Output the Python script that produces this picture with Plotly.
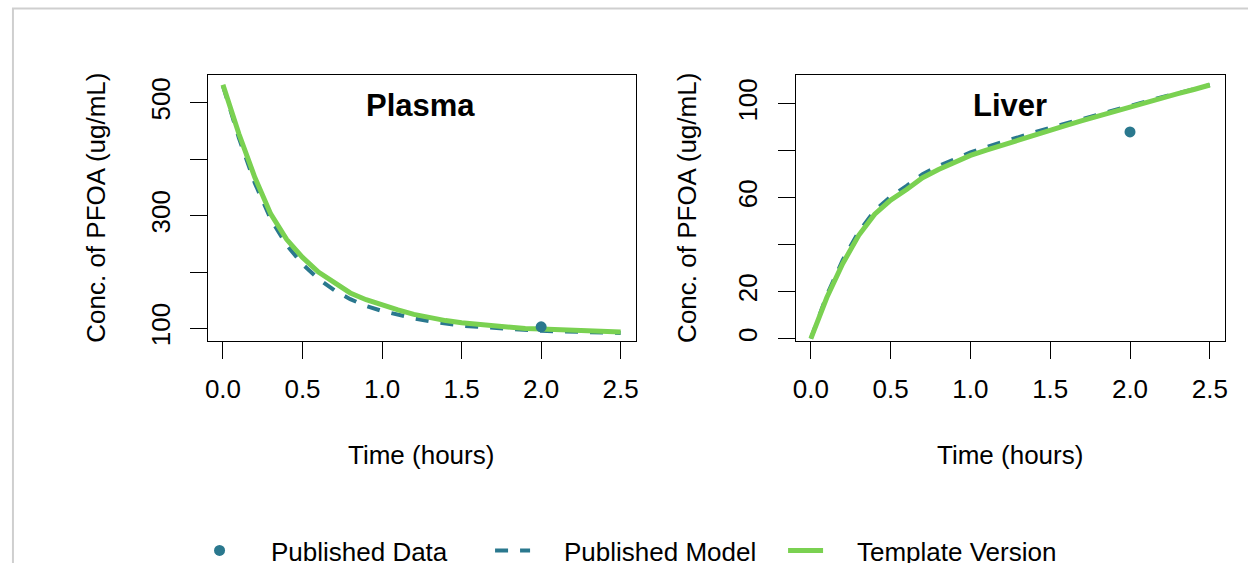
import plotly.graph_objects as go

# ---------------- data ----------------
time_h = [0.0, 0.1, 0.2, 0.3, 0.4, 0.5, 0.6, 0.7, 0.8, 0.9, 1.0, 1.1, 1.2,
          1.3, 1.4, 1.5, 1.6, 1.7, 1.8, 1.9, 2.0, 2.1, 2.2, 2.3, 2.4, 2.5]

plasma_template = [532, 445, 368, 303, 258, 226, 200, 181, 163, 151, 141, 133, 125,
                   119, 114, 110, 107, 104, 102, 100, 99, 98, 97, 96, 95, 94]
plasma_model = [530, 438, 358, 294, 248, 214, 188, 168, 152, 140, 131, 124, 118,
                113, 109, 105, 103, 101, 99, 97, 96, 95, 94, 93, 92.5, 92]

liver_template = [0, 17.5, 32, 44, 53, 59, 63.5, 68.5, 72, 75, 78, 80.3, 82.5,
                  84.6, 86.7, 88.8, 90.8, 92.8, 94.8, 96.8, 98.7, 100.6, 102.5, 104.3, 106.1, 108]
liver_model = [0, 18.5, 33.5, 45.5, 54.5, 60.5, 65, 70, 73.5, 76.5, 79.3, 81.6, 83.8,
               85.8, 87.8, 89.8, 91.7, 93.6, 95.5, 97.4, 99.2, 101, 102.8, 104.5, 106.2, 108]

data_time = [2.0]
plasma_data = [103]
liver_data = [88]

x_ticks = [0.0, 0.5, 1.0, 1.5, 2.0, 2.5]
x_ticktext = ["0.0", "0.5", "1.0", "1.5", "2.0", "2.5"]
plasma_yticks = [100, 200, 300, 400, 500]
plasma_yticktext = ["100", "", "300", "", "500"]
liver_yticks = [0, 20, 40, 60, 80, 100]
liver_yticktext = ["0", "20", "", "60", "", "100"]

# ---------------- style ----------------
W, H = 1248, 563        # target picture size (layout is laid out in these px)
HT = 574                # figure height actually used (fills the viewport)
TEAL = "#2A788E"
GREEN = "#7AD151"
FONT = "Liberation Sans, Arial, sans-serif"
FS = 26
GAP = "\u00a0" * 4

def px_x(p):
    return p / W

def px_y(p):
    return 1 - p / H

fig = go.Figure()

panels = [
    ("x", "y", plasma_model, plasma_template, plasma_data, True),
    ("x2", "y2", liver_model, liver_template, liver_data, False),
]
for xa, ya, model, templ, pts, show in panels:
    fig.add_trace(go.Scatter(
        x=time_h, y=model, mode="lines", name=GAP + "Published Model",
        line=dict(color=TEAL, width=4, dash="13px,12px"),
        xaxis=xa, yaxis=ya, showlegend=show, legendgroup="model", legendrank=2))
    fig.add_trace(go.Scatter(
        x=time_h, y=templ, mode="lines", name=GAP + "Template Version",
        line=dict(color=GREEN, width=5),
        xaxis=xa, yaxis=ya, showlegend=show, legendgroup="templ", legendrank=3))
    fig.add_trace(go.Scatter(
        x=data_time, y=pts, mode="markers", name=GAP + "Published Data",
        marker=dict(color=TEAL, size=11),
        xaxis=xa, yaxis=ya, showlegend=show, legendgroup="data", legendrank=1))

common_axis = dict(
    showline=True, mirror=True, linecolor="black", linewidth=1,
    ticks="outside", ticklen=17, tickwidth=1, tickcolor="black",
    showgrid=False, zeroline=False,
    tickfont=dict(family=FONT, size=FS, color="black"),
)

ydom = [px_y(337.7), px_y(74)]
fig.update_layout(
    width=W, height=HT,
    margin=dict(l=0, r=0, t=0, b=0),
    paper_bgcolor="white", plot_bgcolor="white",
    font=dict(family=FONT, size=FS, color="black"),
    xaxis=dict(domain=[px_x(206), px_x(635.7)], range=[-0.094, 2.594],
               tickvals=x_ticks, ticktext=x_ticktext, anchor="y",
               ticklabelstandoff=8, **common_axis),
    yaxis=dict(domain=ydom, range=[77.3, 549.6], tickvals=plasma_yticks,
               ticktext=plasma_yticktext, tickangle=-90, anchor="x",
               ticklabelstandoff=10, **common_axis),
    xaxis2=dict(domain=[px_x(796.7), px_x(1227.7)], range=[-0.094, 2.594],
                tickvals=x_ticks, ticktext=x_ticktext, anchor="y2",
                ticklabelstandoff=8, **common_axis),
    yaxis2=dict(domain=ydom, range=[-1.16, 112.35], tickvals=liver_yticks,
                ticktext=liver_yticktext, tickangle=-90, anchor="x2",
                ticklabelstandoff=10, **common_axis),
    legend=dict(orientation="h", x=px_x(195), xanchor="left", y=px_y(545), yanchor="middle",
                font=dict(family=FONT, size=FS, color="black"),
                itemwidth=35, entrywidth=243, entrywidthmode="pixels",
                bgcolor="rgba(0,0,0,0)"),
    showlegend=True,
)

# outer light frame
fig.add_shape(type="rect", xref="paper", yref="paper",
              x0=px_x(10), x1=1.05, y0=-0.05, y1=px_y(8.5),
              line=dict(color="#cfcfcf", width=2), fillcolor="rgba(0,0,0,0)", layer="below")

annotations = [
    dict(text="Conc. of PFOA (ug/mL)", x=px_x(94), y=px_y(206), textangle=-90),
    dict(text="Conc. of PFOA (ug/mL)", x=px_x(687), y=px_y(206), textangle=-90),
    dict(text="Time (hours)", x=px_x(420), y=px_y(450)),
    dict(text="Time (hours)", x=px_x(1012), y=px_y(450)),
    dict(text="<b>Plasma</b>", x=px_x(420), y=px_y(104), font=dict(family=FONT, size=31, color="black")),
    dict(text="<b>Liver</b>", x=px_x(1012), y=px_y(104), font=dict(family=FONT, size=31, color="black")),
]
for a in annotations:
    a.setdefault("font", dict(family=FONT, size=FS, color="black"))
    fig.add_annotation(xref="paper", yref="paper", showarrow=False,
                       xanchor="center", yanchor="middle", **a)

fig.write_html(
    "out.html",
    config={"displayModeBar": False},
    post_script="document.body.style.margin='0';document.body.style.overflow='hidden';",
)
